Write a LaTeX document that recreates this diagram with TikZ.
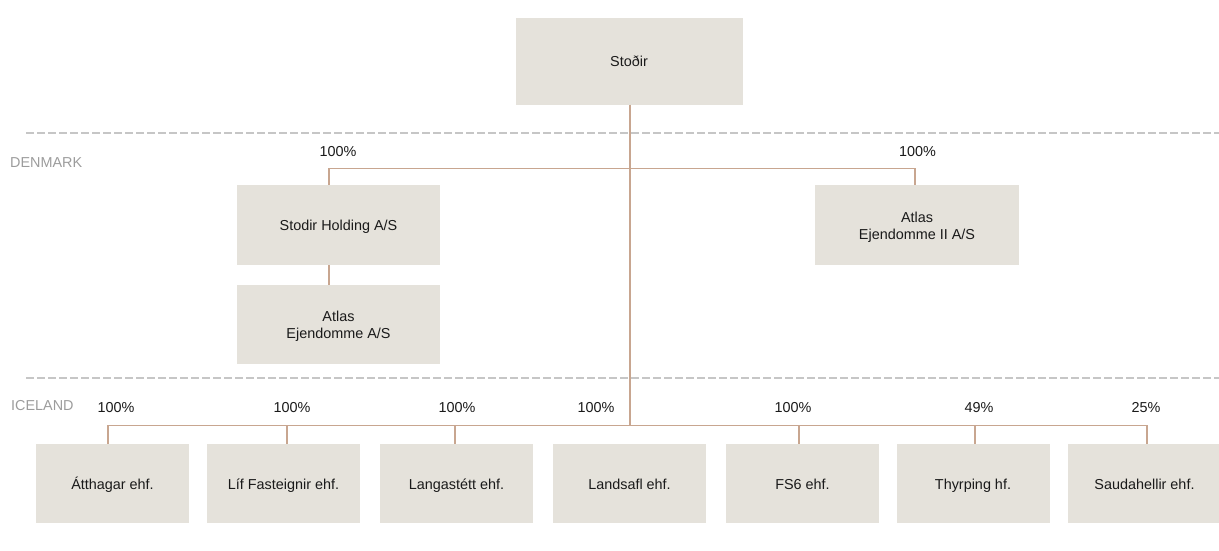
\documentclass[tikz,border=0pt]{standalone}
\usepackage{fontspec}
\setmainfont{Liberation Sans}
\definecolor{boxfill}{HTML}{E5E2DB}
\definecolor{conncol}{HTML}{C8A690}
\definecolor{dashcol}{HTML}{C6C6C6}
\definecolor{regcol}{HTML}{9C9C9C}
\definecolor{txtcol}{HTML}{1A1A1A}
\begin{document}
\begin{tikzpicture}[x=1pt,y=-1pt,
  entity/.style={fill=boxfill, draw=none, inner sep=0pt, align=center, text=txtcol,
    font=\fontsize{14.4}{17}\selectfont},
  oneline/.style={text height=12pt, text depth=0.6pt},
  twoline/.style={text height=30pt, text depth=1.5pt},
  pct/.style={inner sep=0pt, text=txtcol, font=\fontsize{14.4}{17}\selectfont},
  region/.style={inner sep=0pt, anchor=west, text=regcol, font=\fontsize{14.4}{17}\selectfont},
  link/.style={draw=conncol, line width=1.3pt},
  sepline/.style={draw=dashcol, line width=2pt, dash pattern=on 8pt off 3pt}]
\useasboundingbox (0,0) rectangle (1219,550);

% separators
\draw[sepline] (26,133) -- (1219,133);
\draw[sepline] (26,378) -- (1219,378);
\node[region] (dk) at (10,163) {DENMARK};
\node[region] (is) at (11,406) {ICELAND};

% top
\node[entity, oneline, minimum width=227pt, minimum height=87pt] (stodir) at (629,61) {Stoðir};

% Denmark
\node[entity, oneline, minimum width=203pt, minimum height=80pt] (holding) at (338.5,225) {Stodir Holding A/S};
\node[entity, twoline, minimum width=203pt, minimum height=79pt] (atlasdk) at (338.5,324.5) {Atlas\\Ejendomme A/S};
\node[entity, twoline, minimum width=204pt, minimum height=80pt] (atlas2) at (917,225) {Atlas\\Ejendomme II A/S};
\node[pct] (pdk1) at (338,152) {100\%};
\node[pct] (pdk2) at (917.5,152) {100\%};

% Iceland
\foreach \n/\cx/\t in {b1/112.5/Átthagar ehf., b2/283.5/Líf Fasteignir ehf., b3/456.5/Langastétt ehf.,
  b4/629.5/Landsafl ehf., b5/802.5/FS6 ehf., b6/973/Thyrping hf., b7/1144.5/Saudahellir ehf.}
  \node[entity, oneline, minimum width=153pt, minimum height=79pt] (\n) at (\cx,483.5) {\t};
\node[pct] (pi1) at (116,408) {100\%};
\node[pct] (pi2) at (292,408) {100\%};
\node[pct] (pi3) at (457,408) {100\%};
\node[pct] (pi4) at (596,408) {100\%};
\node[pct] (pi5) at (793,408) {100\%};
\node[pct] (pi6) at (979,408) {49\%};
\node[pct] (pi7) at (1146,408) {25\%};

\coordinate (busB) at (0,426);

% connectors
\draw[link] ([xshift=1pt]stodir.south) -- ([xshift=1pt]stodir.south |- busB);
\draw[link] ([xshift=-9.5pt]holding.north) -- ++(0,-16) -| ([xshift=-2pt]atlas2.north);
\draw[link] ([xshift=-9.5pt]holding.south) -- ([xshift=-9.5pt]atlasdk.north);
\draw[link] ([xshift=-4.5pt]b1.north) -- ++(0,-18) -| ([xshift=2.5pt]b7.north);
\draw[link] ([xshift=3.5pt]b2.north) -- ++(0,-18);
\draw[link] ([xshift=-1.5pt]b3.north) -- ++(0,-18);
\draw[link] ([xshift=-3.5pt]b5.north) -- ++(0,-18);
\draw[link] ([xshift=2pt]b6.north) -- ++(0,-18);
\end{tikzpicture}
\end{document}
